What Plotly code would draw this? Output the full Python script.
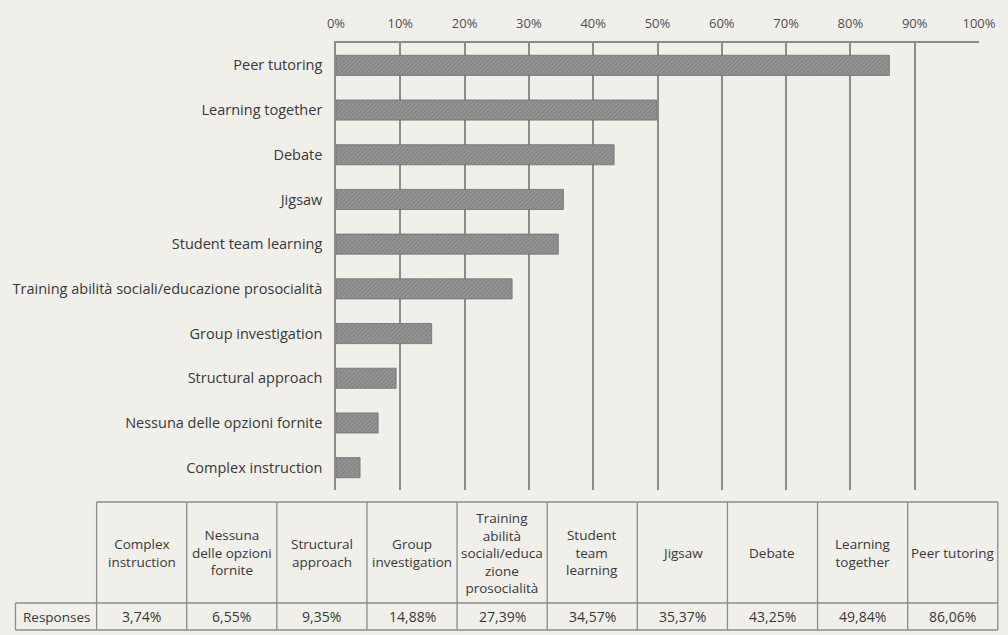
import plotly.graph_objects as go

# Survey responses per cooperative-learning method (share of respondents)
categories = [
    "Complex instruction",
    "Nessuna delle opzioni fornite",
    "Structural approach",
    "Group investigation",
    "Training abilità sociali/educazione prosocialità",
    "Student team learning",
    "Jigsaw",
    "Debate",
    "Learning together",
    "Peer tutoring",
]
responses = [3.74, 6.55, 9.35, 14.88, 27.39, 34.57, 35.37, 43.25, 49.84, 86.06]

# Wrapped header labels for the data table under the chart
table_headers = [
    "Complex<br>instruction",
    "Nessuna<br>delle opzioni<br>fornite",
    "Structural<br>approach",
    "Group<br>investigation",
    "Training<br>abilità<br>sociali/educa<br>zione<br>prosocialità",
    "Student<br>team<br>learning",
    "Jigsaw",
    "Debate",
    "Learning<br>together",
    "Peer tutoring",
]
row_label = "Responses"

W, H = 1008, 635
PLOT_L, PLOT_R, PLOT_T, PLOT_B = 336, 986, 43, 490
FONT = "Open Sans"
TEXT = "#383838"
LINE = "#8c8c8c"
BG = "#f0efea"

fig = go.Figure()
fig.add_trace(go.Bar(
    x=[v / 100 for v in responses],
    y=categories,
    orientation="h",
    marker=dict(
        color="#8a8a8a",
        line=dict(color="#6e6e6e", width=0.8),
        pattern=dict(shape="/", fgcolor="#6e6e6e", bgcolor="#969696",
                     size=3, solidity=0.45),
    ),
    hoverinfo="skip",
))


def px_x(px):
    return (px - PLOT_L) / (PLOT_R - PLOT_L)


def px_y(py):
    return (PLOT_B - py) / (PLOT_B - PLOT_T)


# Data table geometry (pixel layout of the grid)
tab_left, tab_right = 94, 1005
label_left = 12
row_top, row_mid, row_bot = 502, 603, 630
col_w = (tab_right - tab_left) / len(categories)

shapes = []
annotations = []


def hline(x0, x1, y):
    shapes.append(dict(type="line", xref="paper", yref="paper",
                       x0=px_x(x0), x1=px_x(x1), y0=px_y(y), y1=px_y(y),
                       line=dict(color=LINE, width=1.3)))


def vline(x, y0, y1):
    shapes.append(dict(type="line", xref="paper", yref="paper",
                       x0=px_x(x), x1=px_x(x), y0=px_y(y0), y1=px_y(y1),
                       line=dict(color=LINE, width=1.3)))


hline(tab_left, tab_right, row_top)
hline(label_left, tab_right, row_mid)
hline(label_left, tab_right, row_bot)
vline(label_left, row_mid, row_bot)
for i in range(len(categories) + 1):
    vline(tab_left + i * col_w, row_top, row_bot)

for i, (hdr, val) in enumerate(zip(table_headers, responses)):
    cx = tab_left + (i + 0.5) * col_w
    annotations.append(dict(
        x=px_x(cx), y=px_y((row_top + row_mid) / 2), xref="paper", yref="paper",
        text=hdr, showarrow=False, xanchor="center", yanchor="middle",
        font=dict(family=FONT, size=13.5, color=TEXT), align="center",
    ))
    annotations.append(dict(
        x=px_x(cx), y=px_y((row_mid + row_bot) / 2), xref="paper", yref="paper",
        text=f"{val:.2f}".replace(".", ",") + "%", showarrow=False,
        xanchor="center", yanchor="middle",
        font=dict(family=FONT, size=14, color=TEXT),
    ))

annotations.append(dict(
    x=px_x((label_left + tab_left) / 2), y=px_y((row_mid + row_bot) / 2),
    xref="paper", yref="paper", text=row_label, showarrow=False,
    xanchor="center", yanchor="middle",
    font=dict(family=FONT, size=13.5, color=TEXT),
))

fig.update_layout(
    width=W, height=H,
    margin=dict(l=PLOT_L, r=W - PLOT_R, t=PLOT_T, b=H - PLOT_B, pad=0),
    paper_bgcolor=BG, plot_bgcolor=BG,
    bargap=0.55,
    showlegend=False,
    shapes=shapes,
    annotations=annotations,
    xaxis=dict(
        side="top", range=[0, 1], dtick=0.1, tick0=0, tickformat=".0%",
        showgrid=True, gridcolor=LINE, gridwidth=1.5,
        showline=True, linecolor=LINE, linewidth=1.5, mirror=False,
        zeroline=False, ticks="", ticklabelstandoff=8,
        tickfont=dict(family=FONT, size=13, color="#505050"),
        fixedrange=True,
    ),
    yaxis=dict(
        showline=True, linecolor=LINE, linewidth=1.5,
        showgrid=False, zeroline=False, ticks="", ticklabelstandoff=9,
        tickfont=dict(family=FONT, size=14.5, color=TEXT),
        fixedrange=True,
    ),
)

fig.write_html("out.html")
